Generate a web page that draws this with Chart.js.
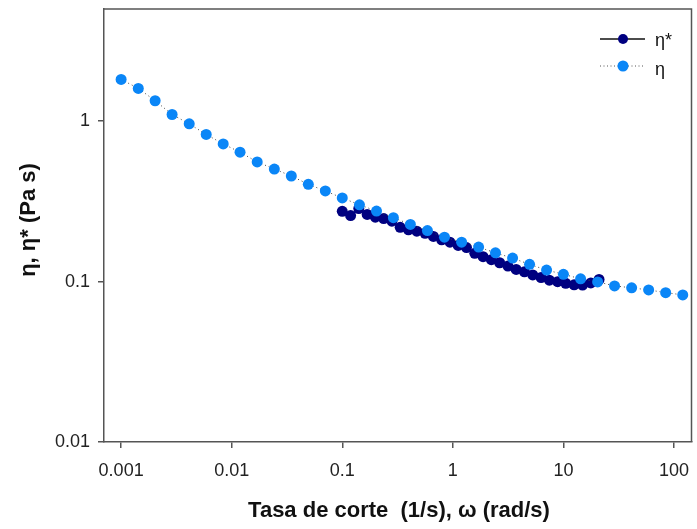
<!DOCTYPE html>
<html>
<head>
<meta charset="utf-8">
<script src="https://cdn.jsdelivr.net/npm/chart.js@4"></script>
<style>
  html, body { margin: 0; padding: 0; background: #fff; }
  #wrap { width: 697px; height: 529px; position: relative; }
</style>
</head>
<body>
<div id="wrap"><canvas id="viscChart" width="697" height="529"></canvas></div>
<script>
// Shear rate (1/s) for steady viscosity eta
const rateEta = [0.001, 0.00143, 0.00203, 0.00289, 0.00413, 0.00588, 0.00838, 0.0119, 0.017, 0.0243,
                 0.0346, 0.0493, 0.0703, 0.1, 0.143, 0.204, 0.29, 0.413, 0.589, 0.84,
                 1.2, 1.71, 2.43, 3.47, 4.94, 7.04, 10.0, 14.3, 20.4, 29.0,
                 41.4, 59.0, 84.1, 120];
const etaValues = [1.82, 1.60, 1.34, 1.10, 0.962, 0.826, 0.721, 0.640, 0.557, 0.503,
                   0.455, 0.404, 0.367, 0.332, 0.301, 0.275, 0.250, 0.227, 0.208, 0.189,
                   0.176, 0.164, 0.151, 0.140, 0.128, 0.118, 0.111, 0.104, 0.0995, 0.094,
                   0.0914, 0.0887, 0.0853, 0.0826];

// Angular frequency (rad/s) for complex viscosity eta*
const omegaEtaStar = [0.1, 0.119, 0.141, 0.168, 0.199, 0.237, 0.281, 0.334, 0.397, 0.472,
                      0.561, 0.667, 0.792, 0.941, 1.118, 1.329, 1.579, 1.876, 2.23, 2.65,
                      3.15, 3.74, 4.44, 5.28, 6.28, 7.46, 8.86, 10.5, 12.5, 14.9,
                      17.7, 21.0];
const etaStarValues = [0.274, 0.258, 0.285, 0.262, 0.252, 0.247, 0.238, 0.218, 0.210, 0.206,
                       0.200, 0.191, 0.182, 0.176, 0.168, 0.163, 0.150, 0.143, 0.137, 0.131,
                       0.125, 0.119, 0.115, 0.110, 0.106, 0.102, 0.0998, 0.0975, 0.0955, 0.0952,
                       0.0980, 0.103];

const xTicks = [0.001, 0.01, 0.1, 1, 10, 100];
const xTickLabels = ['0.001', '0.01', '0.1', '1', '10', '100'];
const yTicks = [0.01, 0.1, 1];
const yTickLabels = ['0.01', '0.1', '1'];

const seriesNames = ['\u03b7*', '\u03b7'];
const xTitle = 'Tasa de corte  (1/s), \u03c9 (rad/s)';
const yTitle = '\u03b7, \u03b7* (Pa s)';

const NAVY = '#000080';
const LIGHT = '#0a86f7';
const AXIS = '#555555';
const FONT = '"Liberation Sans", Arial, sans-serif';

function toPoints(xs, ys) {
    return xs.map((x, i) => ({ x: x, y: ys[i] }));
}

// frame, axis titles and legend
const decorPlugin = {
    id: 'decor',
    afterDraw(chart) {
        const ctx = chart.ctx;
        const a = chart.chartArea;
        ctx.save();
        // top and right border of the frame
        ctx.strokeStyle = AXIS;
        ctx.lineWidth = 1.5;
        ctx.beginPath();
        ctx.moveTo(a.left, a.top);
        ctx.lineTo(a.right, a.top);
        ctx.lineTo(a.right, a.bottom);
        ctx.stroke();

        // axis titles
        ctx.fillStyle = '#111';
        ctx.font = 'bold 22px ' + FONT;
        ctx.textAlign = 'center';
        ctx.textBaseline = 'middle';
        ctx.fillText(xTitle, 399, 511);
        ctx.save();
        ctx.translate(29, 220);
        ctx.rotate(-Math.PI / 2);
        ctx.fillText(yTitle, 0, 0);
        ctx.restore();

        // legend
        ctx.font = '18px ' + FONT;
        ctx.textAlign = 'left';
        // eta*
        ctx.strokeStyle = '#111';
        ctx.lineWidth = 1.3;
        ctx.setLineDash([]);
        ctx.beginPath();
        ctx.moveTo(600, 39);
        ctx.lineTo(645, 39);
        ctx.stroke();
        ctx.fillStyle = NAVY;
        ctx.beginPath();
        ctx.arc(623, 39, 5, 0, Math.PI * 2);
        ctx.fill();
        ctx.fillStyle = '#111';
        ctx.fillText(seriesNames[0], 655, 41);
        // eta
        ctx.strokeStyle = '#555';
        ctx.lineWidth = 1;
        ctx.setLineDash([1, 2.5]);
        ctx.beginPath();
        ctx.moveTo(600, 66);
        ctx.lineTo(645, 66);
        ctx.stroke();
        ctx.setLineDash([]);
        ctx.fillStyle = LIGHT;
        ctx.beginPath();
        ctx.arc(623, 66, 5.5, 0, Math.PI * 2);
        ctx.fill();
        ctx.fillStyle = '#111';
        ctx.fillText(seriesNames[1], 655, 70);
        ctx.restore();
    }
};

const ctx = document.getElementById('viscChart').getContext('2d');
window.viscChart = new Chart(ctx, {
    type: 'line',
    data: {
        datasets: [{
            label: seriesNames[1],
            data: toPoints(rateEta, etaValues),
            borderColor: '#444',
            borderWidth: 1,
            borderDash: [1, 3],
            backgroundColor: LIGHT,
            pointBackgroundColor: LIGHT,
            pointBorderColor: LIGHT,
            pointRadius: 5.5,
            pointBorderWidth: 0,
            order: 1
        }, {
            label: seriesNames[0],
            data: toPoints(omegaEtaStar, etaStarValues),
            borderColor: NAVY,
            borderWidth: 1.5,
            backgroundColor: NAVY,
            pointBackgroundColor: NAVY,
            pointBorderColor: NAVY,
            pointRadius: 5.5,
            pointBorderWidth: 0,
            order: 2
        }]
    },
    options: {
        responsive: false,
        animation: false,
        layout: {
            padding: { left: 0, top: 9, right: 4, bottom: 0 }
        },
        plugins: {
            legend: { display: false },
            tooltip: { enabled: false }
        },
        scales: {
            x: {
                type: 'logarithmic',
                min: 0.0007,
                max: 144,
                afterBuildTicks: function(scale) {
                    scale.ticks = xTicks.map(v => ({ value: v }));
                },
                afterFit: function(scale) {
                    scale.height = 87;
                    scale.paddingLeft = 0;
                    scale.paddingRight = 0;
                },
                ticks: {
                    autoSkip: false,
                    maxRotation: 0,
                    padding: 12,
                    color: '#222',
                    font: { family: FONT, size: 18 },
                    callback: function(value) {
                        const i = xTicks.indexOf(value);
                        return i >= 0 ? xTickLabels[i] : '';
                    }
                },
                grid: {
                    drawOnChartArea: false,
                    drawTicks: true,
                    tickLength: 6,
                    color: AXIS,
                    lineWidth: 1.5
                },
                border: { display: true, color: AXIS, width: 1.5 }
            },
            y: {
                type: 'logarithmic',
                min: 0.01,
                max: 5,
                afterBuildTicks: function(scale) {
                    scale.ticks = yTicks.map(v => ({ value: v }));
                },
                afterFit: function(scale) {
                    scale.width = 104;
                    scale.paddingTop = 0;
                    scale.paddingBottom = 0;
                },
                ticks: {
                    autoSkip: false,
                    padding: 8,
                    color: '#222',
                    font: { family: FONT, size: 18 },
                    callback: function(value) {
                        const i = yTicks.indexOf(value);
                        return i >= 0 ? yTickLabels[i] : '';
                    }
                },
                grid: {
                    drawOnChartArea: false,
                    drawTicks: true,
                    tickLength: 6,
                    color: AXIS,
                    lineWidth: 1.5
                },
                border: { display: true, color: AXIS, width: 1.5 }
            }
        }
    },
    plugins: [decorPlugin]
});
</script>
</body>
</html>
